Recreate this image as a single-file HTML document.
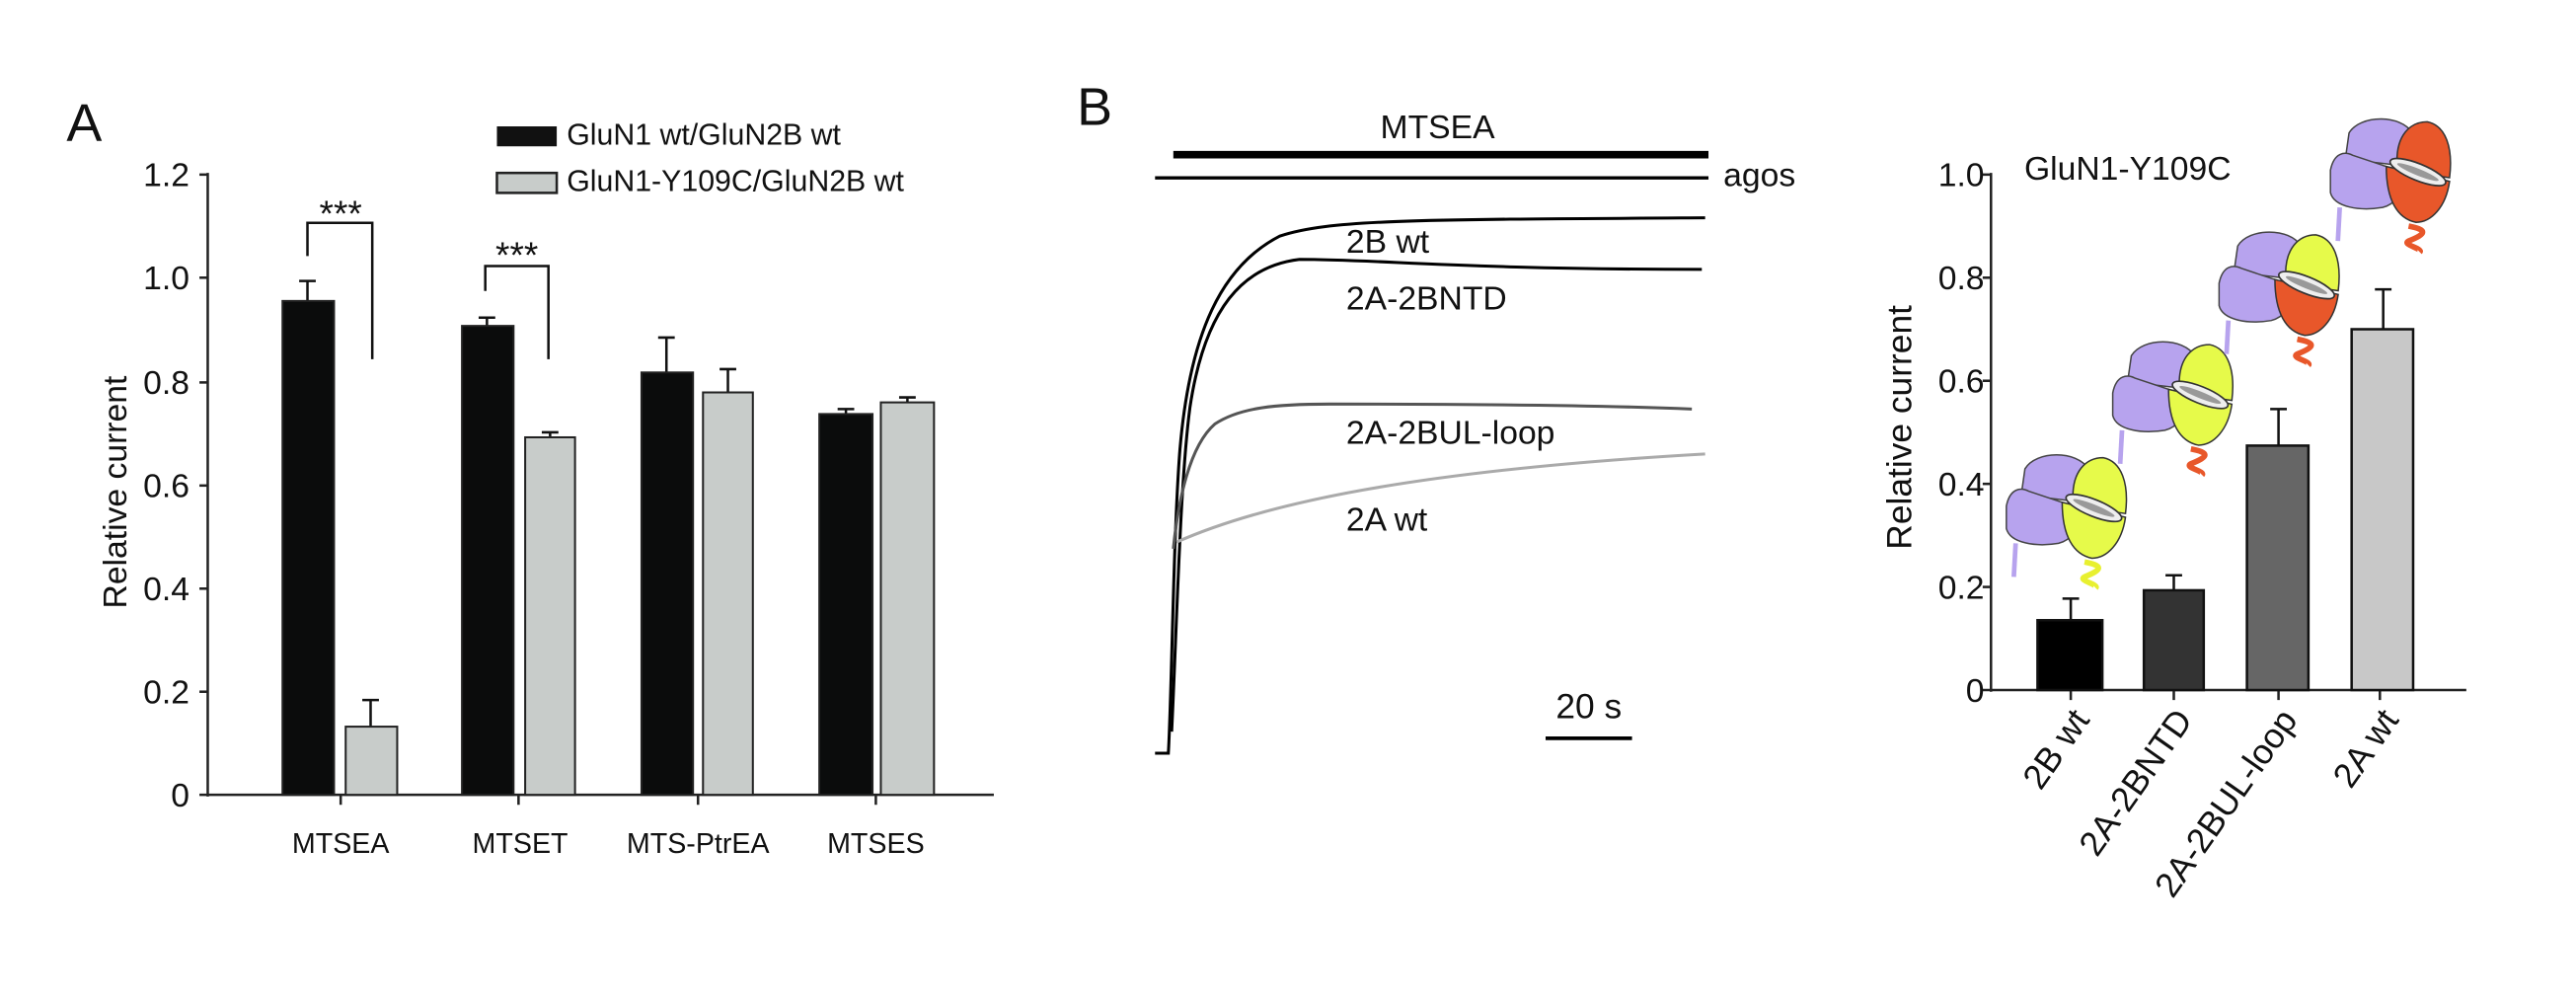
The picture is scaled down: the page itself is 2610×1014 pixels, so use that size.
<!DOCTYPE html>
<html><head><meta charset="utf-8"><style>
html,body{margin:0;padding:0;background:#fff;}
svg{display:block;}
text{font-family:"Liberation Sans",sans-serif;fill:#111;}
</style></head><body>
<svg width="2610" height="1014" viewBox="0 0 1550 602" preserveAspectRatio="none" xmlns="http://www.w3.org/2000/svg">
<defs>
<g id="rec">
  <path d="M12,8 C18,-2 40,-2 46,8 L44,26 L10,22 Z" fill="#b7a3ee" stroke="#444" stroke-width="0.8"/>
  <path d="M2,28 C4,18 10,18 14,20 L44,30 C40,40 38,46 30,48 C18,50 4,48 2,40 Z" fill="#b7a3ee" stroke="#444" stroke-width="0.8"/>
  <line x1="7" y1="48" x2="6" y2="66" stroke="#b7a3ee" stroke-width="2.5"/>
</g>
<g id="clam">
  <ellipse cx="49" cy="29" rx="16" ry="4.5" transform="rotate(22 49 29)" fill="#eee" stroke="#333" stroke-width="0.9"/>
  <ellipse cx="49" cy="29" rx="12" ry="1.8" transform="rotate(22 49 29)" fill="#999"/>
</g>
</defs>

<!-- Panel A -->
<text x="40" y="85" font-size="32">A</text>
<rect x="299" y="76" width="36" height="12" fill="#111"/>
<text x="341" y="87" font-size="18">GluN1 wt/GluN2B wt</text>
<rect x="299" y="104" width="36" height="12" fill="#c8ccca" stroke="#222" stroke-width="1.5"/>
<text x="341" y="115" font-size="18">GluN1-Y109C/GluN2B wt</text>

<g stroke="#222" stroke-width="1.5" fill="none">
<line x1="125" y1="104" x2="125" y2="479"/>
<line x1="120" y1="478" x2="598" y2="478"/>
<line x1="120" y1="105" x2="125" y2="105"/>
<line x1="120" y1="167" x2="125" y2="167"/>
<line x1="120" y1="230" x2="125" y2="230"/>
<line x1="120" y1="292" x2="125" y2="292"/>
<line x1="120" y1="354" x2="125" y2="354"/>
<line x1="120" y1="416" x2="125" y2="416"/>
<line x1="205" y1="478" x2="205" y2="484"/>
<line x1="312" y1="478" x2="312" y2="484"/>
<line x1="420" y1="478" x2="420" y2="484"/>
<line x1="527" y1="478" x2="527" y2="484"/>
</g>
<g font-size="20" text-anchor="end">
<text x="114" y="112">1.2</text><text x="114" y="174">1.0</text><text x="114" y="237">0.8</text>
<text x="114" y="299">0.6</text><text x="114" y="361">0.4</text><text x="114" y="423">0.2</text><text x="114" y="485">0</text>
</g>
<text transform="translate(76,296) rotate(-90)" font-size="20" text-anchor="middle">Relative current</text>
<g font-size="17" text-anchor="middle">
<text x="205" y="513">MTSEA</text><text x="313" y="513">MTSET</text><text x="420" y="513">MTS-PtrEA</text><text x="527" y="513">MTSES</text>
</g>
<g stroke="#111" stroke-width="1.5">
<line x1="185" y1="181" x2="185" y2="169"/><line x1="180" y1="169" x2="190" y2="169"/>
<line x1="223" y1="437" x2="223" y2="421"/><line x1="218" y1="421" x2="228" y2="421"/>
<line x1="293" y1="196" x2="293" y2="191"/><line x1="288" y1="191" x2="298" y2="191"/>
<line x1="331" y1="263" x2="331" y2="260"/><line x1="326" y1="260" x2="336" y2="260"/>
<line x1="401" y1="224" x2="401" y2="203"/><line x1="396" y1="203" x2="406" y2="203"/>
<line x1="438" y1="236" x2="438" y2="222"/><line x1="433" y1="222" x2="443" y2="222"/>
<line x1="509" y1="249" x2="509" y2="246"/><line x1="504" y1="246" x2="514" y2="246"/>
<line x1="546" y1="242" x2="546" y2="239"/><line x1="541" y1="239" x2="551" y2="239"/>
</g>
<g stroke="#222" stroke-width="1.2">
<rect x="170" y="181" width="31" height="297" fill="#0b0c0c"/>
<rect x="208" y="437" width="31" height="41" fill="#c8ccca"/>
<rect x="278" y="196" width="31" height="282" fill="#0b0c0c"/>
<rect x="316" y="263" width="30" height="215" fill="#c8ccca"/>
<rect x="386" y="224" width="31" height="254" fill="#0b0c0c"/>
<rect x="423" y="236" width="30" height="242" fill="#c8ccca"/>
<rect x="493" y="249" width="32" height="229" fill="#0b0c0c"/>
<rect x="530" y="242" width="32" height="236" fill="#c8ccca"/>
</g>
<g stroke="#111" stroke-width="1.5" fill="none">
<polyline points="185,154 185,134 224,134 224,216"/>
<polyline points="292,175 292,160 330,160 330,216"/>
</g>
<text x="205" y="136" font-size="22" text-anchor="middle">***</text>
<text x="311" y="161" font-size="22" text-anchor="middle">***</text>

<!-- Panel B traces -->
<text x="648" y="75" font-size="32">B</text>
<text x="865" y="83" font-size="20" text-anchor="middle">MTSEA</text>
<line x1="706" y1="93" x2="1028" y2="93" stroke="#000" stroke-width="4.5"/>
<line x1="695" y1="107" x2="1028" y2="107" stroke="#000" stroke-width="2"/>
<text x="1037" y="112" font-size="20">agos</text>
<g fill="none" stroke-width="1.8">
<path d="M695,453 L703,453 C705,420 706,320 710,270 C716,200 735,160 770,142 C800,132 850,132 1026,131" stroke="#000"/>
<path d="M705,440 C708,380 710,290 716,245 C725,185 748,160 782,156 C830,156 880,162 1024,162" stroke="#000"/>
<path d="M706,330 C709,300 716,268 731,255 C746,245 768,243 800,243 C900,243 970,244 1018,246" stroke="#555"/>
<path d="M708,326 C760,303 850,283 1026,273" stroke="#aaa"/>
</g>
<g font-size="20">
<text x="810" y="152">2B wt</text>
<text x="810" y="186">2A-2BNTD</text>
<text x="810" y="267">2A-2BUL-loop</text>
<text x="810" y="319">2A wt</text>
</g>
<text x="956" y="432" font-size="21" text-anchor="middle">20 s</text>
<line x1="930" y1="444" x2="982" y2="444" stroke="#000" stroke-width="2.2"/>

<!-- Panel B bar chart -->
<text x="1218" y="108" font-size="20">GluN1-Y109C</text>
<g stroke="#222" stroke-width="1.5" fill="none">
<line x1="1198" y1="104" x2="1198" y2="416"/>
<line x1="1193" y1="415" x2="1484" y2="415"/>
<line x1="1193" y1="105" x2="1198" y2="105"/><line x1="1193" y1="167" x2="1198" y2="167"/>
<line x1="1193" y1="229" x2="1198" y2="229"/><line x1="1193" y1="291" x2="1198" y2="291"/>
<line x1="1193" y1="353" x2="1198" y2="353"/>
<line x1="1246" y1="415" x2="1246" y2="421"/><line x1="1308" y1="415" x2="1308" y2="421"/>
<line x1="1371" y1="415" x2="1371" y2="421"/><line x1="1432" y1="415" x2="1432" y2="421"/>
</g>
<g font-size="20" text-anchor="end">
<text x="1194" y="112">1.0</text><text x="1194" y="174">0.8</text><text x="1194" y="236">0.6</text>
<text x="1194" y="298">0.4</text><text x="1194" y="360">0.2</text><text x="1194" y="422">0</text>
</g>
<text transform="translate(1150,257) rotate(-90)" font-size="21" text-anchor="middle">Relative current</text>
<g stroke="#111" stroke-width="1.5">
<line x1="1246" y1="373" x2="1246" y2="360"/><line x1="1241" y1="360" x2="1251" y2="360"/>
<line x1="1308" y1="355" x2="1308" y2="346"/><line x1="1303" y1="346" x2="1313" y2="346"/>
<line x1="1371" y1="268" x2="1371" y2="246"/><line x1="1366" y1="246" x2="1376" y2="246"/>
<line x1="1434" y1="198" x2="1434" y2="174"/><line x1="1429" y1="174" x2="1439" y2="174"/>
</g>
<g stroke="#111" stroke-width="1.5">
<rect x="1226" y="373" width="39" height="42" fill="#000"/>
<rect x="1290" y="355" width="36" height="60" fill="#333"/>
<rect x="1352" y="268" width="37" height="147" fill="#666"/>
<rect x="1415" y="198" width="37" height="217" fill="#c8c8c8"/>
</g>
<g font-size="21" text-anchor="end">
<text transform="translate(1258,433) rotate(-55)">2B wt</text>
<text transform="translate(1320,433) rotate(-55)">2A-2BNTD</text>
<text transform="translate(1383,433) rotate(-55)">2A-2BUL-loop</text>
<text transform="translate(1444,433) rotate(-55)">2A wt</text>
</g>

<!-- receptor cartoons -->
<g transform="translate(1205,273) scale(1.12)">
  <use href="#rec"/>
  <path d="M38,28 C36,8 46,2 54,2 C64,4 68,16 66,32 Z" fill="#e6fa4a" stroke="#333" stroke-width="0.8"/>
  <path d="M32,26 L66,34 C64,48 56,56 48,56 C38,54 32,44 32,26 Z" fill="#e6fa4a" stroke="#333" stroke-width="0.8"/>
  <use href="#clam"/>
  <path d="M44,58 C54,60 54,62 44,66 C40,68 52,70 50,72" fill="none" stroke="#e8f030" stroke-width="3"/>
</g>
<g transform="translate(1269,205) scale(1.12)">
  <use href="#rec"/>
  <path d="M38,28 C36,8 46,2 54,2 C64,4 68,16 66,32 Z" fill="#e6fa4a" stroke="#333" stroke-width="0.8"/>
  <path d="M32,26 L66,34 C64,48 56,56 48,56 C38,54 32,44 32,26 Z" fill="#e6fa4a" stroke="#333" stroke-width="0.8"/>
  <use href="#clam"/>
  <path d="M44,58 C54,60 54,62 44,66 C40,68 52,70 50,72" fill="none" stroke="#e8572a" stroke-width="3"/>
</g>
<g transform="translate(1333,139) scale(1.12)">
  <use href="#rec"/>
  <path d="M38,28 C36,8 46,2 54,2 C64,4 68,16 66,32 Z" fill="#e6fa4a" stroke="#333" stroke-width="0.8"/>
  <path d="M32,26 L66,34 C64,48 56,56 48,56 C38,54 32,44 32,26 Z" fill="#e8572a" stroke="#333" stroke-width="0.8"/>
  <use href="#clam"/>
  <path d="M44,58 C54,60 54,62 44,66 C40,68 52,70 50,72" fill="none" stroke="#e8572a" stroke-width="3"/>
</g>
<g transform="translate(1400,71) scale(1.12)">
  <use href="#rec"/>
  <path d="M38,28 C36,8 46,2 54,2 C64,4 68,16 66,32 Z" fill="#e8572a" stroke="#333" stroke-width="0.8"/>
  <path d="M32,26 L66,34 C64,48 56,56 48,56 C38,54 32,44 32,26 Z" fill="#e8572a" stroke="#333" stroke-width="0.8"/>
  <use href="#clam"/>
  <path d="M44,58 C54,60 54,62 44,66 C40,68 52,70 50,72" fill="none" stroke="#e8572a" stroke-width="3"/>
</g>
</svg>
</body></html>
